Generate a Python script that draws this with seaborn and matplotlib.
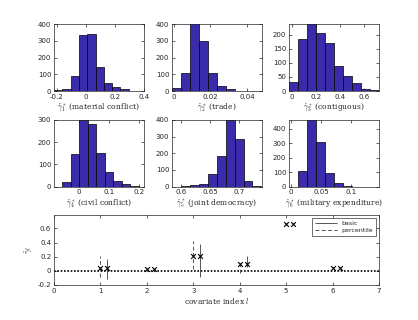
import numpy as np
import pandas as pd
import seaborn as sns
import matplotlib
matplotlib.use("Agg")
import matplotlib.pyplot as plt
from matplotlib.ticker import FuncFormatter

# ---- histogram data (bin start, bin width, counts) ----
names = ["material conflict", "trade", "contiguous",
         "civil conflict", "joint democracy", "military expenditure"]
bin_start = [-0.22, -0.001, -0.025, -0.056, 0.584, 0.0115]
bin_width = [0.0574, 0.0049, 0.075, 0.0285, 0.01545, 0.0149]
counts = [
    [5, 10, 88, 335, 338, 143, 45, 24, 10, 3],
    [15, 105, 420, 300, 108, 32, 10, 3],
    [33, 185, 240, 205, 170, 87, 52, 28, 8, 5],
    [19, 148, 300, 280, 153, 65, 25, 10, 2],
    [1, 4, 8, 18, 73, 182, 400, 285, 34, 3],
    [110, 470, 309, 92, 23, 5, 1, 1, 1],
]
x_limits = [(-0.22, 0.4), (-0.001, 0.048), (-0.025, 0.725),
            (-0.083, 0.216), (0.584, 0.739), (-0.003, 0.146)]
x_ticks = [[-0.2, 0, 0.2, 0.4], [0, 0.02, 0.04], [0, 0.2, 0.4, 0.6],
           [0, 0.1, 0.2], [0.6, 0.65, 0.7], [0, 0.05, 0.1]]
y_limits = [(0, 400), (0, 400), (0, 237), (0, 300), (0, 400), (0, 462)]
y_ticks = [np.arange(0, 401, 100), np.arange(0, 401, 100), np.arange(0, 201, 50),
           np.arange(0, 301, 100), np.arange(0, 401, 100), np.arange(0, 401, 100)]

# ---- covariate estimates and intervals ----
cov_idx = [1, 2, 3, 4, 5, 6]
est = [0.043, 0.022, 0.21, 0.097, 0.669, 0.045]
pct_lo = [-0.082, 0.014, 0.03, -0.033, 0.662, 0.037]
pct_hi = [0.206, 0.03, 0.42, 0.135, 0.676, 0.053]
basic_lo = [-0.12, 0.014, -0.08, 0.048, 0.662, 0.037]
basic_hi = [0.169, 0.03, 0.38, 0.207, 0.676, 0.053]

sns.set_theme(style="ticks")
plt.rcParams["font.family"] = ["DejaVu Sans"]
plt.rcParams["mathtext.fontset"] = "cm"
plt.rcParams["xtick.direction"] = "in"
plt.rcParams["ytick.direction"] = "in"

fmt = FuncFormatter(lambda v, p: "%g" % v)
bar_color = "#3a2bab"

fig = plt.figure(figsize=(4.18, 3.2), dpi=100)
lefts = [0.1292, 0.4115, 0.6914]
bottoms = [0.7156, 0.4166]

for i in range(6):
    r, c = divmod(i, 3)
    ax = fig.add_axes([lefts[c], bottoms[r], 0.2145, 0.209])
    edges = [bin_start[i] + bin_width[i] * k for k in range(len(counts[i]) + 1)]
    centers = [(a + b) / 2 for a, b in zip(edges[:-1], edges[1:])]
    df = pd.DataFrame({"x": centers, "n": counts[i]})
    sns.histplot(data=df, x="x", weights="n", bins=edges, ax=ax,
                 color=bar_color, edgecolor="black", linewidth=0.5, alpha=1)
    ax.set_xlim(*x_limits[i])
    ax.set_ylim(*y_limits[i])
    ax.set_xticks(x_ticks[i])
    ax.set_yticks(y_ticks[i])
    ax.xaxis.set_major_formatter(fmt)
    ax.yaxis.set_major_formatter(fmt)
    ax.tick_params(labelsize=5, length=2, width=0.5, pad=2, top=True, right=True)
    ax.set_ylabel("")
    ax.set_xlabel(r"$\hat{\gamma}^*_%d$ (%s)" % (i + 1, names[i]),
                  fontsize=5.5, family="serif", labelpad=1.5)
    for s in ax.spines.values():
        s.set_linewidth(0.5)

# ---- bottom panel ----
ax = fig.add_axes([0.1292, 0.1094, 0.7775, 0.2188])
ax.axhline(0, color="black", linestyle=(0, (1, 1)), linewidth=1.2, zorder=1)
pts = pd.DataFrame({
    "x": np.concatenate([np.array(cov_idx, float), np.array(cov_idx) + 0.15]),
    "y": est + est,
})
ax.vlines(cov_idx, pct_lo, pct_hi, colors="#555555", linestyles=(0, (4, 2.5)),
          linewidth=0.7, label="percentile", zorder=2)
ax.vlines(np.array(cov_idx) + 0.15, basic_lo, basic_hi, colors="#555555",
          linestyles="solid", linewidth=0.7, label="basic", zorder=2)
sns.scatterplot(data=pts, x="x", y="y", ax=ax, marker="x", s=12,
                color="black", linewidth=0.8, zorder=3)
ax.set_xlim(0, 7)
ax.set_ylim(-0.2, 0.79)
ax.set_xticks(range(8))
ax.set_yticks([-0.2, 0, 0.2, 0.4, 0.6])
ax.xaxis.set_major_formatter(fmt)
ax.yaxis.set_major_formatter(fmt)
ax.tick_params(labelsize=5, length=2, width=0.5, pad=2, top=True, right=True)
ax.set_xlabel(r"covariate index $l$", fontsize=5.5, family="serif", labelpad=1.5)
ax.set_ylabel(r"$\hat{\gamma}_l$", fontsize=6, labelpad=2)
for s in ax.spines.values():
    s.set_linewidth(0.5)
h, l = ax.get_legend_handles_labels()
order = [l.index("basic"), l.index("percentile")]
ax.legend([h[k] for k in order], [l[k] for k in order], loc="upper right",
          fontsize=4.5, frameon=True, fancybox=False, edgecolor="black",
          handlelength=3.5, borderpad=0.4, labelspacing=0.3).get_frame().set_linewidth(0.5)

fig.savefig("out.png", dpi=100)
